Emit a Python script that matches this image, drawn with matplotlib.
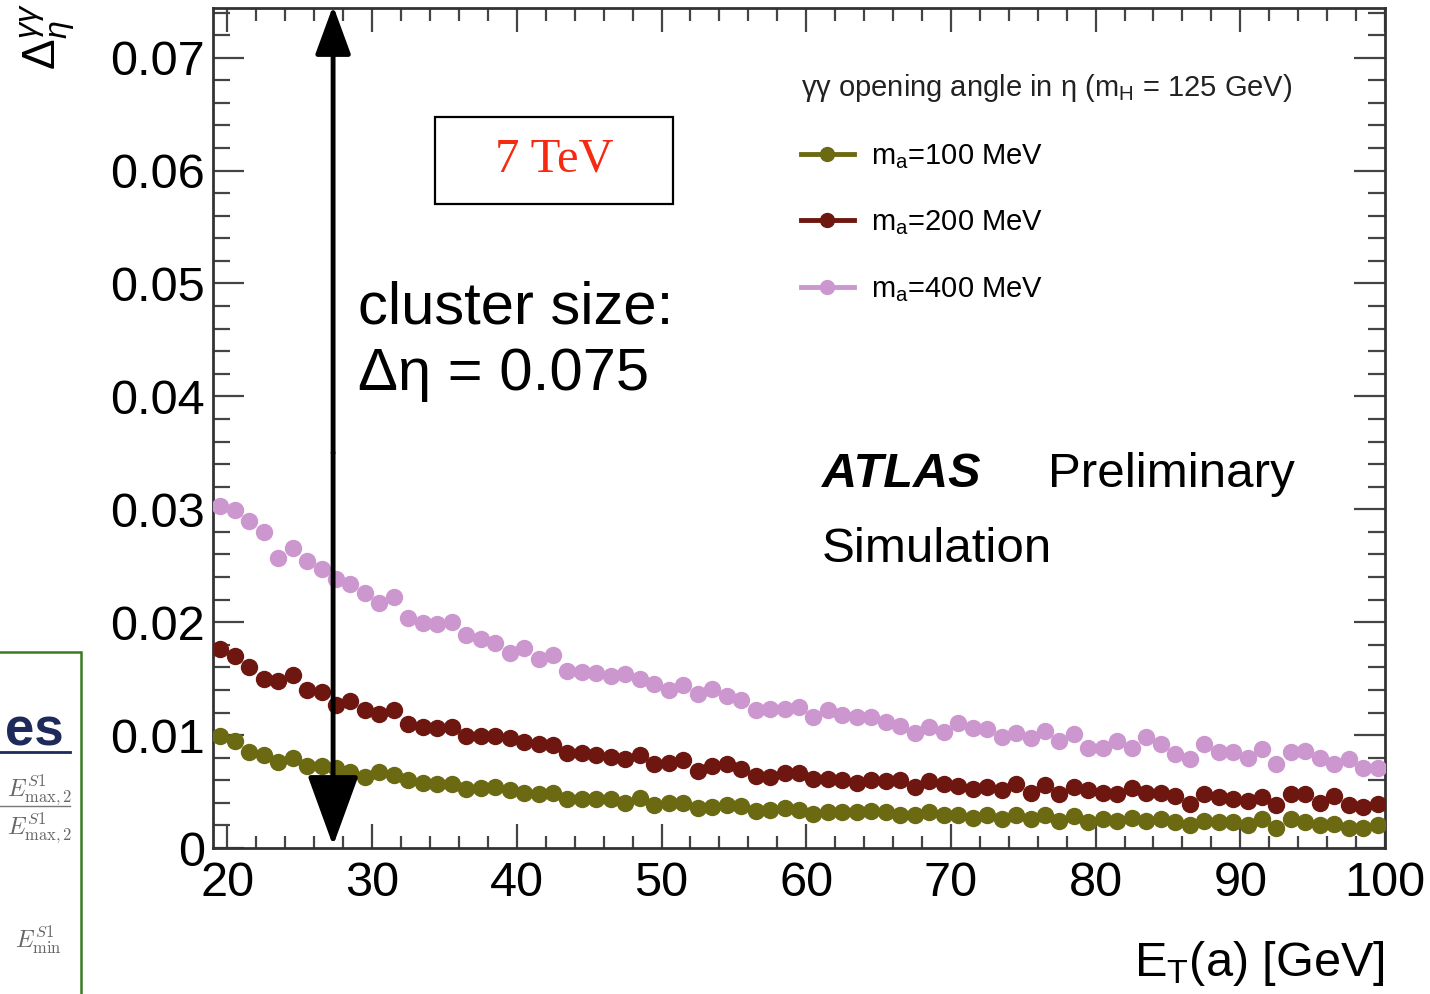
import numpy as np
import matplotlib.pyplot as plt
from matplotlib.patches import Rectangle, FancyArrowPatch
from matplotlib.lines import Line2D
from matplotlib.ticker import MultipleLocator

plt.rcParams['font.family'] = ['Liberation Sans', 'DejaVu Sans']
plt.rcParams['mathtext.fontset'] = 'custom'
plt.rcParams['mathtext.rm'] = 'Liberation Sans'
plt.rcParams['mathtext.it'] = 'Liberation Sans:italic'

# bin centres of the 1 GeV wide E_T(a) bins
et = np.arange(19.5, 100.0, 1.0)

# gamma-gamma opening angle in eta
dEta_100 = [
    0.0099, 0.0095, 0.0085, 0.0082, 0.0076, 0.0080, 0.0073, 0.0073, 0.0071, 0.0067,
    0.0063, 0.0067, 0.0065, 0.0060, 0.0058, 0.0057, 0.0057, 0.0052, 0.0053, 0.0054,
    0.0051, 0.0049, 0.0048, 0.0049, 0.0043, 0.0043, 0.0043, 0.0043, 0.0040, 0.0044,
    0.0038, 0.0040, 0.0040, 0.0035, 0.0036, 0.0038, 0.0037, 0.0033, 0.0034, 0.0035,
    0.0034, 0.0030, 0.0032, 0.0032, 0.0032, 0.0033, 0.0032, 0.0029, 0.0029, 0.0032,
    0.0029, 0.0029, 0.0027, 0.0029, 0.0026, 0.0029, 0.0026, 0.0029, 0.0024, 0.0028,
    0.0023, 0.0026, 0.0024, 0.0027, 0.0024, 0.0026, 0.0023, 0.0020, 0.0024, 0.0023,
    0.0023, 0.0020, 0.0026, 0.0018, 0.0026, 0.0023, 0.0020, 0.0021, 0.0018, 0.0018,
    0.0020]
dEta_200 = [
    0.0176, 0.0170, 0.0160, 0.0150, 0.0148, 0.0153, 0.0140, 0.0138, 0.0127, 0.0130,
    0.0122, 0.0119, 0.0122, 0.0110, 0.0107, 0.0106, 0.0107, 0.0099, 0.0099, 0.0099,
    0.0097, 0.0094, 0.0092, 0.0091, 0.0084, 0.0084, 0.0082, 0.0081, 0.0079, 0.0082,
    0.0074, 0.0075, 0.0078, 0.0068, 0.0073, 0.0074, 0.0070, 0.0064, 0.0063, 0.0066,
    0.0066, 0.0061, 0.0061, 0.0060, 0.0058, 0.0060, 0.0059, 0.0060, 0.0054, 0.0059,
    0.0057, 0.0055, 0.0052, 0.0054, 0.0051, 0.0057, 0.0049, 0.0056, 0.0048, 0.0054,
    0.0051, 0.0049, 0.0048, 0.0053, 0.0049, 0.0049, 0.0046, 0.0039, 0.0048, 0.0045,
    0.0043, 0.0042, 0.0045, 0.0038, 0.0048, 0.0048, 0.0040, 0.0046, 0.0038, 0.0036,
    0.0039]
dEta_400 = [
    0.0303, 0.0299, 0.0290, 0.0280, 0.0257, 0.0266, 0.0254, 0.0247, 0.0238, 0.0234,
    0.0226, 0.0217, 0.0222, 0.0204, 0.0199, 0.0198, 0.0200, 0.0189, 0.0185, 0.0182,
    0.0173, 0.0177, 0.0167, 0.0171, 0.0157, 0.0156, 0.0155, 0.0152, 0.0154, 0.0150,
    0.0145, 0.0140, 0.0144, 0.0136, 0.0141, 0.0135, 0.0131, 0.0122, 0.0123, 0.0123,
    0.0125, 0.0116, 0.0122, 0.0118, 0.0116, 0.0116, 0.0112, 0.0108, 0.0102, 0.0107,
    0.0103, 0.0111, 0.0106, 0.0105, 0.0098, 0.0102, 0.0097, 0.0104, 0.0095, 0.0101,
    0.0089, 0.0089, 0.0095, 0.0089, 0.0098, 0.0092, 0.0083, 0.0079, 0.0092, 0.0085,
    0.0085, 0.0080, 0.0088, 0.0074, 0.0085, 0.0086, 0.0080, 0.0074, 0.0079, 0.0071,
    0.0071]

labels = [r'm$_{\rm a}$=100 MeV', r'm$_{\rm a}$=200 MeV', r'm$_{\rm a}$=400 MeV']
colors = ['#6b6a12', '#6e1710', '#cc97cf']
yticks = [0, 0.01, 0.02, 0.03, 0.04, 0.05, 0.06, 0.07]
ytick_labels = ['0', '0.01', '0.02', '0.03', '0.04', '0.05', '0.06', '0.07']
xticks = [20, 30, 40, 50, 60, 70, 80, 90, 100]

W, H = 1430, 994
fig = plt.figure(figsize=(W / 100, H / 100), dpi=100)
ax = fig.add_axes([213 / W, 1 - 848 / H, (1385 - 213) / W, (848 - 8) / H])

for vals, c in zip([dEta_100, dEta_200, dEta_400], colors):
    ax.plot(et, vals, 'o', ms=11.5, color=c, mec=c, zorder=3)

ax.set_xlim(19, 100)
ax.set_ylim(0, 0.0744)
ax.set_xticks(xticks)
ax.set_yticks(yticks)
ax.set_yticklabels(ytick_labels)
ax.xaxis.set_minor_locator(MultipleLocator(2))
ax.yaxis.set_minor_locator(MultipleLocator(0.002))
ax.tick_params(which='both', direction='in', top=True, right=True, color='#444444', width=1.6)
ax.tick_params(axis='x', which='major', length=17, labelsize=35, pad=9)
ax.tick_params(axis='x', which='minor', length=9)
ax.tick_params(axis='y', which='major', length=22, labelsize=35, pad=6)
ax.tick_params(axis='y', which='minor', length=12)
for s in ax.spines.values():
    s.set_linewidth(2)
    s.set_color('#333333')

# double headed arrow showing the cluster size
arrow_x = 27.3
up = FancyArrowPatch((arrow_x, 0.035), (arrow_x, 0.0746), arrowstyle='-|>,head_length=30,head_width=11',
                     mutation_scale=1, lw=3.5, color='black', shrinkA=0, shrinkB=0, zorder=5, clip_on=False)
down = FancyArrowPatch((arrow_x, 0.035), (arrow_x, 0.0002), arrowstyle='-|>,head_length=44,head_width=16',
                       mutation_scale=1, lw=3.5, color='black', shrinkA=0, shrinkB=0, zorder=5)
ax.add_patch(up)
ax.add_patch(down)

fig.text(358 / W, 1 - 323 / H, 'cluster size:', fontsize=43, va='baseline')
fig.text(358 / W, 1 - 390 / H, 'Δη = 0.075', fontsize=43, va='baseline')

# 7 TeV box
fig.add_artist(Rectangle((435 / W, 1 - 204 / H), 238 / W, 87 / H, transform=fig.transFigure,
                         fill=False, ec='black', lw=1.6))
fig.text(554 / W, 1 - 160 / H, '7 TeV', fontsize=35, color='#f52a10',
         family='Liberation Serif', ha='center', va='center')

fig.text(822 / W, 1 - 487 / H, 'ATLAS', fontsize=35, weight='bold', style='italic', va='baseline')
fig.text(1048 / W, 1 - 487 / H, 'Preliminary', fontsize=35.5, va='baseline')
fig.text(822 / W, 1 - 562 / H, 'Simulation', fontsize=35.5, va='baseline')

handles = [Line2D([], [], color=c, lw=3.5, marker='o', ms=10) for c in colors]
leg = ax.legend(handles, labels, loc='upper left', bbox_to_anchor=(801 / W, 1 - 72 / H),
                bbox_transform=fig.transFigure, frameon=False, fontsize=21, numpoints=1,
                title=r'γγ opening angle in η (m$_{\rm H}$ = 125 GeV)', title_fontsize=21,
                alignment='left', handlelength=1.8, handletextpad=0.6, labelspacing=1.3,
                borderpad=0, borderaxespad=0)
leg.get_title().set_color('#222222')

fig.text(48 / W, 1 - 3 / H, r'$\Delta^{\gamma\gamma}_{\eta}$', fontsize=33, rotation=90,
         ha='center', va='top')
fig.text(1385 / W, 1 - 963 / H, r'E$_{\rm T}$(a) [GeV]', fontsize=35, ha='right', va='center')

# fragment of the neighbouring slide box on the left
fig.add_artist(Rectangle((-0.01, -0.01), 81 / W + 0.01, 1 - 652 / H + 0.01, transform=fig.transFigure,
                         fill=False, ec='#3b7a22', lw=1.8))
fig.text(64 / W, 1 - 746 / H, 'es', fontsize=38, weight='bold', color='#1e2a5a', ha='right', va='baseline')
fig.add_artist(Line2D([0, 70 / W], [1 - 752 / H, 1 - 752 / H], transform=fig.transFigure, color='#1e2a5a', lw=2))
fig.text(72 / W, 1 - 790 / H, r'$E^{S1}_{\mathrm{max},2}$', fontsize=17, color='#666666', ha='right',
         va='center', math_fontfamily='cm')
fig.add_artist(Line2D([0, 70 / W], [1 - 806 / H, 1 - 806 / H], transform=fig.transFigure, color='#777777', lw=1))
fig.text(72 / W, 1 - 828 / H, r'$E^{S1}_{\mathrm{max},2}$', fontsize=17, color='#666666', ha='right',
         va='center', math_fontfamily='cm')
fig.text(62 / W, 1 - 940 / H, r'$E^{S1}_{\mathrm{min}}$', fontsize=17, color='#666666', ha='right',
         va='center', math_fontfamily='cm')

fig.savefig('out.png', dpi=100)
